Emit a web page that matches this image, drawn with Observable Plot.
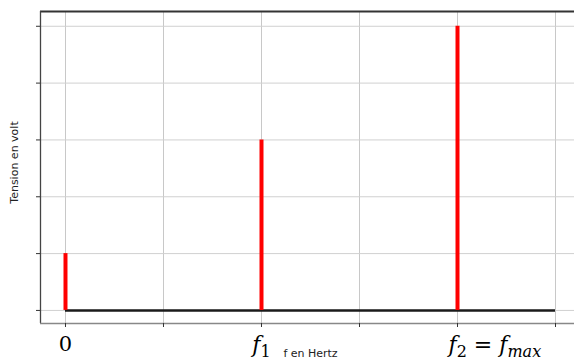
<!DOCTYPE html>
<html>
<head>
<meta charset="utf-8">
<script src="https://cdn.jsdelivr.net/npm/d3@7"></script>
<script src="https://cdn.jsdelivr.net/npm/@observablehq/plot@0.6"></script>
<style>
  html, body { margin: 0; padding: 0; background: #fff; }
  svg { display: block; }
</style>
</head>
<body>
<div id="chart"></div>
<script>
// ---- data ----
const xTicks = [0, 1, 2, 3, 4, 5];
const xTickLabels = ["0", "", "f_1", "", "f_2 = f_max", ""];
const yTicks = [0, 1, 2, 3, 4, 5];
const freqs = [0, 2, 4];
const amplitudes = [1, 3, 5];
const baselineX = [0, 5];
const xDomain = [-0.255, 5.255];
const yDomain = [-0.23, 5.26];
const xLabel = "f en Hertz";
const yLabel = "Tension en volt";

const stems = freqs.map((f, i) => ({f, a: amplitudes[i]}));

const svg = Plot.plot({
  width: 574,
  height: 361,
  marginLeft: 40,
  marginRight: -6,
  marginTop: 11,
  marginBottom: 38,
  style: {background: "#fff", fontFamily: "DejaVu Sans"},
  x: {domain: xDomain},
  y: {domain: yDomain},
  marks: [
    Plot.gridX(xTicks, {stroke: "#c8c8c8", strokeOpacity: 1, strokeWidth: 1}),
    Plot.gridY(yTicks, {stroke: "#d0d0d0", strokeOpacity: 1, strokeWidth: 1}),
    Plot.ruleY([yDomain[1]], {stroke: "#333", strokeWidth: 2}),
    Plot.ruleX([xDomain[0]], {stroke: "#444", strokeWidth: 1.3}),
    Plot.ruleY([yDomain[0]], {stroke: "#888", strokeWidth: 1.3}),
    Plot.ruleY([0], {x1: baselineX[0], x2: baselineX[1], stroke: "#1a1a1a", strokeWidth: 2.5}),
    Plot.ruleX(stems, {x: "f", y1: 0, y2: "a", stroke: "#ff0000", strokeWidth: 4}),
    Plot.axisX(xTicks, {
      tickSize: 4, tickPadding: 9, stroke: "#333",
      tickFormat: (d, i) => xTickLabels[i],
      fontSize: 22, fontFamily: "DejaVu Serif", fill: "#000",
      label: null
    }),
    Plot.axisY(yTicks, {tickSize: 4, stroke: "#333", tickFormat: () => "", label: null}),
    Plot.text([xLabel], {frameAnchor: "bottom", dy: 33, fontSize: 11, fill: "#222", fontFamily: "DejaVu Sans"}),
    Plot.text([yLabel], {frameAnchor: "left", textAnchor: "middle", rotate: -90, dx: -26, dy: -5, fontSize: 11, fill: "#222", fontFamily: "DejaVu Sans"})
  ]
});

// render math-like tick labels (italic f, subscripts) with tspans
d3.select(svg).selectAll('g[aria-label="x-axis tick label"] text').each(function() {
  const label = this.textContent;
  if (!label) return;
  const t = d3.select(this);
  if (label === "0") { t.attr("font-size", 21); return; }
  t.text(null);
  const re = /_([A-Za-z0-9]+)|([A-Za-z]+)|([^A-Za-z_]+)/g;
  let m, shifted = false;
  while ((m = re.exec(label)) !== null) {
    const ts = t.append("tspan");
    if (m[1] !== undefined) {
      ts.text(m[1]).attr("font-size", 16).attr("dy", shifted ? 0 : 5)
        .attr("font-style", /^[0-9]+$/.test(m[1]) ? "normal" : "italic");
      shifted = true;
    } else {
      if (shifted) { ts.attr("dy", -5); shifted = false; }
      if (m[2] !== undefined) ts.text(m[2]).attr("font-style", "italic");
      else ts.text(m[3]);
    }
  }
  if (label.includes("=")) t.attr("text-anchor", "start").attr("x", -9);
});

document.getElementById("chart").appendChild(svg);
</script>
</body>
</html>
